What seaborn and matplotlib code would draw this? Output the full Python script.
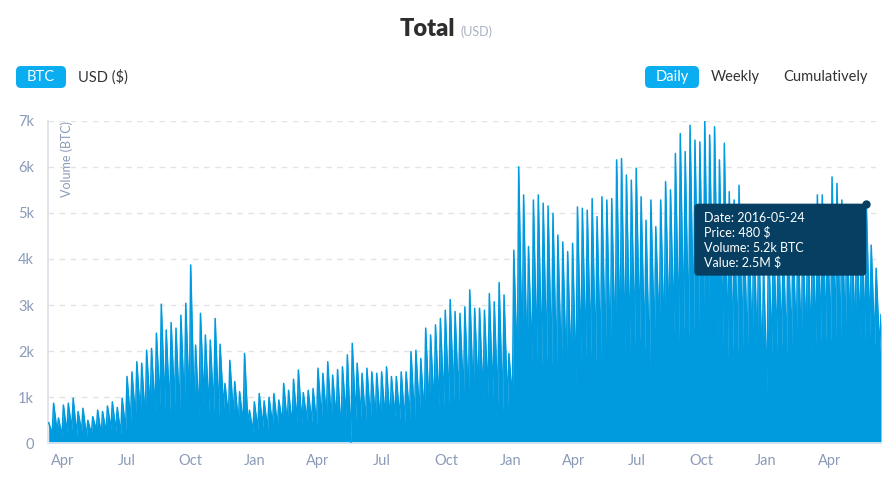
import numpy as np
import pandas as pd
import matplotlib
matplotlib.use("Agg")
import matplotlib.pyplot as plt
import matplotlib.dates as mdates
import seaborn as sns
from matplotlib.patches import FancyBboxPatch
from matplotlib.transforms import IdentityTransform

# ---------------- data (thousands of BTC) ----------------
start_monday = "2013-03-11"
x_start = "2013-03-11"
x_end = "2016-06-14"

# weekly high (weekday) volume, one value per week, in k BTC
weekday_peak_k = [
    0.45, 0.87, 0.55, 0.83, 0.87, 0.98, 0.69, 0.76, 0.50, 0.58, 0.72, 0.69, 0.81, 0.90, 0.78, 0.98,
    1.45, 1.55, 1.77, 1.74, 2.02, 2.06, 2.39, 3.02, 2.46, 2.62, 2.50, 2.78, 3.04,
    3.87, 2.13, 2.82, 2.35, 2.24, 2.71, 2.15, 1.30, 1.80, 1.34, 1.12, 1.95, 0.72,
    0.90, 1.08, 0.92, 1.00, 1.08, 0.94, 1.30, 1.15, 1.39, 1.59, 1.10, 1.15, 1.19,
    1.63, 1.52, 1.77, 1.48, 1.60, 1.66, 1.92, 2.17, 1.74, 1.52, 1.63, 1.55, 1.52,
    1.55, 1.66, 1.45, 1.45, 1.55, 1.55, 1.99, 2.02, 1.84, 2.50, 2.35, 2.57, 2.71,
    2.89, 3.12, 2.86, 2.82, 2.96, 3.33, 2.93, 2.93, 2.89, 3.25, 3.07, 3.49, 3.22,
    1.95, 4.19, 6.00, 5.39, 4.27, 5.28, 5.39, 5.21, 5.15, 4.99, 4.52, 4.37, 4.16,
    4.34, 5.13, 5.10, 5.06, 5.31, 4.92, 5.35, 5.28, 5.31, 6.15, 6.18, 5.82, 5.71,
    5.97, 5.35, 4.84, 5.28, 4.70, 5.28, 5.68, 5.50, 6.29, 6.72, 6.33, 6.90, 6.58,
    6.54, 7.01, 6.69, 6.87, 6.15, 6.51, 5.46, 5.28, 5.60, 4.90, 4.70, 5.00, 4.60,
    3.90, 4.50, 4.80, 4.60, 4.40, 4.70, 4.50, 4.80, 4.60, 4.90, 5.00, 5.39, 5.39,
    5.00, 5.78, 5.64, 5.28, 4.90, 5.00, 4.80, 5.10, 5.20, 4.30, 3.80, 2.80,
]

# weekly low (weekend) volume, one value per week, in k BTC
weekend_low_k = [
    0.20, 0.25, 0.15, 0.22, 0.30, 0.18, 0.25, 0.15, 0.20, 0.28, 0.18, 0.22, 0.30, 0.25, 0.20, 0.30,
    0.45, 0.55, 0.60, 0.50, 0.70, 0.65, 0.80, 0.75, 0.70, 0.85, 0.65, 0.80, 0.75,
    0.70, 0.55, 0.80, 0.65, 0.70, 0.60, 0.75, 0.55, 0.60, 0.45, 0.40, 0.35, 0.25,
    0.30, 0.35, 0.30, 0.40, 0.35, 0.45, 0.40, 0.35, 0.45, 0.40, 0.50, 0.45, 0.40,
    0.50, 0.55, 0.45, 0.50, 0.18, 0.55, 0.02, 0.50, 0.55, 0.45, 0.50, 0.55, 0.45,
    0.50, 0.45, 0.55, 0.50, 0.45, 0.55, 0.50, 0.60, 0.55, 0.65, 0.70, 0.75, 0.80,
    0.85, 0.95, 0.90, 1.00, 0.85, 0.95, 1.05, 0.90, 1.00, 0.95, 0.85, 0.70, 0.80,
    0.90, 1.50, 1.75, 1.60, 1.70, 1.80, 1.65, 1.75, 1.70, 1.60, 1.55, 1.50, 1.45,
    1.23, 1.80, 1.85, 1.90, 1.75, 1.85, 1.95, 1.80, 1.90, 2.00, 1.85, 1.95, 2.10,
    2.20, 2.00, 1.60, 2.20, 2.30, 2.10, 2.25, 2.35, 2.20, 2.40, 2.30, 2.45, 2.35,
    2.40, 2.30, 2.45, 2.20, 2.10, 1.80, 2.00, 1.95, 2.05, 1.90, 2.00, 1.85, 1.60,
    1.10, 1.90, 2.00, 2.10, 1.95, 2.05, 2.15, 2.00, 2.10, 1.95, 2.05, 2.15, 2.20,
    2.20, 2.25, 2.10, 2.20, 2.30, 2.15, 2.25, 2.20, 2.30, 2.10, 2.00,
]

y_ticks = [0, 1000, 2000, 3000, 4000, 5000, 6000, 7000]
y_tick_labels = ["0", "1k", "2k", "3k", "4k", "5k", "6k", "7k"]

tip_date = "2016-05-24"
tip_price = 480
tip_volume_k = 5.2
tip_value_m = 2.5

# ---------------- build table ----------------
mondays = pd.date_range(start_monday, periods=len(weekday_peak_k), freq="7D")
peak_df = pd.DataFrame({"date": mondays + pd.Timedelta(days=1),
                        "volume": np.array(weekday_peak_k) * 1000})
low_df = pd.DataFrame({"date": mondays[:len(weekend_low_k)] + pd.Timedelta(days=6),
                       "volume": np.array(weekend_low_k) * 1000})
df = pd.concat([peak_df, low_df]).sort_values("date").reset_index(drop=True)

# ---------------- style ----------------
sns.set_theme(style="white")
plt.rcParams["font.family"] = ["Lato", "DejaVu Sans"]

W, H = 895, 479
fig = plt.figure(figsize=(W / 100, H / 100), dpi=100)
ax = fig.add_axes([48 / W, 1 - 443.3 / H, (881 - 48) / W, (443.3 - 120.7) / H])

blue = "#009ADF"
tick_col = "#8C9BB8"

ax.fill_between(df["date"], 0, df["volume"], color=blue, lw=0, zorder=2)
sns.lineplot(data=df, x="date", y="volume", ax=ax, color=blue, lw=1.1, zorder=3)

ax.set_xlim(pd.Timestamp(x_start), pd.Timestamp(x_end))
ax.set_ylim(0, 7000)
ax.set_yticks(y_ticks)
ax.set_yticklabels(y_tick_labels)
ax.xaxis.set_major_locator(mdates.MonthLocator(bymonth=[1, 4, 7, 10]))
ax.xaxis.set_major_formatter(mdates.DateFormatter("%b"))
ax.set_xlabel("")
ax.set_ylabel("")

ax.grid(axis="y", color="#E3E3E3", linestyle=(0, (4, 4)), lw=1, zorder=0)
ax.grid(axis="x", visible=False)
for s in ["top", "right"]:
    ax.spines[s].set_visible(False)
ax.spines["left"].set_color("#DDE1E8")
ax.spines["bottom"].set_color("#E8EBF0")
ax.tick_params(axis="y", length=0, pad=10, labelsize=10.5, labelcolor=tick_col)
ax.tick_params(axis="x", length=5, width=1, color="#D8DCE4", pad=3,
               labelsize=10.5, labelcolor=tick_col)
ax.set_axisbelow(True)

ax.text(12 / 833, 1.0, "Volume (BTC)", transform=ax.transAxes, rotation=90,
        ha="left", va="top", fontsize=9, color=tick_col)

# ---------------- title ----------------
fig.text(455 / W, 1 - 36 / H, "Total", ha="right", va="baseline",
         fontsize=17, fontweight="heavy", color="#2E2E2E")
fig.text(461 / W, 1 - 36 / H, "(USD)", ha="left", va="baseline",
         fontsize=9, color="#A9B3C4")

# ---------------- buttons ----------------
pill = "#0AADF0"
def pill_box(x0, x1, y0, y1):
    p = FancyBboxPatch((x0, H - y1), x1 - x0, y1 - y0,
                       boxstyle="round,pad=0,rounding_size=5",
                       transform=IdentityTransform(), fc=pill, ec="none")
    fig.add_artist(p)

pill_box(16, 66, 66, 88)
pill_box(645, 699, 66, 88)
fig.text(41 / W, 1 - 77 / H, "BTC", ha="center", va="center", fontsize=10.5, color="white")
fig.text(78 / W, 1 - 77 / H, "USD ($)", ha="left", va="center", fontsize=10.5, color="#333333")
fig.text(672 / W, 1 - 77 / H, "Daily", ha="center", va="center", fontsize=10.5, color="white")
fig.text(711 / W, 1 - 77 / H, "Weekly", ha="left", va="center", fontsize=10.5, color="#333333")
fig.text(783 / W, 1 - 77 / H, "Cumulatively", ha="left", va="center", fontsize=10.5, color="#333333")

# ---------------- tooltip ----------------
tip_x = pd.Timestamp(tip_date)
tip_y = tip_volume_k * 1000
navy = "#063F62"
ax.plot([tip_x], [tip_y], "o", ms=5, color=navy, zorder=6, clip_on=False)
px, py = ax.transData.transform((mdates.date2num(tip_x), tip_y))
bw, bh = 172, 72
box = FancyBboxPatch((px - bw, py - bh), bw, bh,
                     boxstyle="round,pad=0,rounding_size=4",
                     transform=IdentityTransform(), fc=navy, ec="none", zorder=5)
fig.add_artist(box)
lines = [f"Date: {tip_date}", f"Price: {tip_price} $",
         f"Volume: {tip_volume_k}k BTC", f"Value: {tip_value_m}M $"]
for k, t in enumerate(lines):
    fig.text((px - bw + 10) / W, (py - 14 - 15 * k) / H, t, ha="left", va="center",
             fontsize=9, color="white", zorder=7)

fig.savefig("out.png", dpi=100)
